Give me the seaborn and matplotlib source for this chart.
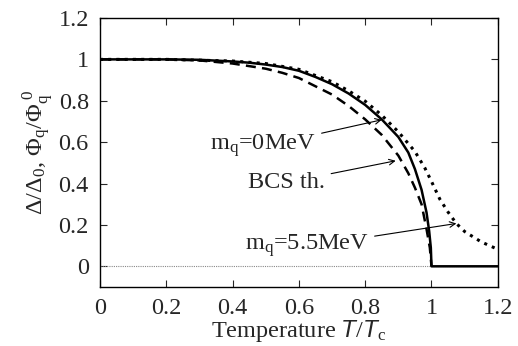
import numpy as np
import pandas as pd
import matplotlib
matplotlib.use("Agg")
import matplotlib.pyplot as plt
import seaborn as sns

# values
t_m0 = [0.0, 0.2, 0.3, 0.4, 0.45, 0.5, 0.55, 0.6, 0.65, 0.7, 0.75, 0.8, 0.85,
        0.9, 0.93, 0.95, 0.97, 0.985, 0.993, 0.998, 1.0, 1.2]
gap_m0 = [1.0, 1.0, 0.998, 0.99, 0.984, 0.975, 0.963, 0.945, 0.915, 0.88, 0.835,
          0.78, 0.71, 0.625, 0.55, 0.47, 0.37, 0.26, 0.17, 0.09, 0.0, 0.0]

t_bcs = [0.0, 0.2, 0.3, 0.4, 0.5, 0.55, 0.6, 0.65, 0.7, 0.75, 0.8, 0.85, 0.9,
         0.93, 0.95, 0.97, 0.985, 0.995, 1.0]
gap_bcs = [1.0, 1.0, 0.995, 0.98, 0.955, 0.935, 0.91, 0.87, 0.83, 0.775, 0.71,
           0.635, 0.535, 0.45, 0.38, 0.30, 0.18, 0.09, 0.0]

t_m55 = [0.0, 0.2, 0.4, 0.5, 0.6, 0.7, 0.75, 0.8, 0.85, 0.9, 0.95, 0.98, 1.0,
         1.025, 1.05, 1.075, 1.1, 1.15, 1.2]
gap_m55 = [1.0, 1.0, 0.992, 0.98, 0.952, 0.892, 0.848, 0.798, 0.73, 0.65, 0.555,
           0.475, 0.41, 0.325, 0.262, 0.207, 0.168, 0.118, 0.082]

x_ticks = [0, 0.2, 0.4, 0.6, 0.8, 1, 1.2]
y_ticks = [0, 0.2, 0.4, 0.6, 0.8, 1, 1.2]

sns.set_style("ticks")
plt.rcParams["font.family"] = ["Liberation Serif", "DejaVu Serif"]
plt.rcParams["mathtext.fontset"] = "custom"
plt.rcParams["mathtext.rm"] = "Liberation Serif"
plt.rcParams["mathtext.it"] = "Liberation Sans:italic"
plt.rcParams["mathtext.cal"] = "Liberation Serif"

fs = 17.5

fig = plt.figure(figsize=(5.18, 3.46), dpi=100)
ax = fig.add_axes([0.193, 0.1705, 0.768, 0.7775])

df_m0 = pd.DataFrame({"T": t_m0, "gap": gap_m0})
df_bcs = pd.DataFrame({"T": t_bcs, "gap": gap_bcs})
df_m55 = pd.DataFrame({"T": t_m55, "gap": gap_m55})

# zero reference line
ax.axhline(0, color="#888888", lw=0.8, ls=(0, (1, 1)), zorder=1)

sns.lineplot(data=df_m55, x="T", y="gap", ax=ax, color="black", lw=2.2,
             linestyle=(0, (1, 1.7)), sort=False)
sns.lineplot(data=df_bcs, x="T", y="gap", ax=ax, color="black", lw=1.8,
             linestyle=(0, (4, 2.5)), sort=False)
sns.lineplot(data=df_m0, x="T", y="gap", ax=ax, color="black", lw=1.8, sort=False)

ax.set_xlim(0, 1.2)
ax.set_ylim(-0.1, 1.2)
ax.set_xticks(x_ticks)
ax.set_yticks(y_ticks)
ax.set_xticklabels(["%g" % v for v in x_ticks])
ax.set_yticklabels(["%g" % v for v in y_ticks])
ax.tick_params(direction="in", length=5, width=0.8, top=True, right=True,
               labelsize=fs, pad=8)
for s in ax.spines.values():
    s.set_linewidth(1.0)
    s.set_color("black")

ax.set_xlabel(r"Temperature $T/T_{\rm c}$", fontsize=fs, labelpad=-1)
ax.set_ylabel(r"$\Delta/\Delta_0$, $\Phi_{\rm q}/\Phi_{\rm q}^{\ 0}$", fontsize=fs, labelpad=2)

arrow = dict(arrowstyle="->", color="black", lw=0.8, shrinkA=2, shrinkB=0,
             mutation_scale=10)
ax.annotate(r"m$_{\rm q}$=0MeV", xy=(0.85, 0.708), xytext=(0.332, 0.58),
            fontsize=fs, va="center", ha="left", arrowprops=arrow)
ax.annotate("BCS th.", xy=(0.892, 0.51), xytext=(0.447, 0.405),
            fontsize=fs, va="center", ha="left", arrowprops=arrow)
ax.annotate(r"m$_{\rm q}$=5.5MeV", xy=(1.075, 0.207), xytext=(0.437, 0.095),
            fontsize=fs, va="center", ha="left", arrowprops=arrow)

plt.savefig("out.png", dpi=100)
